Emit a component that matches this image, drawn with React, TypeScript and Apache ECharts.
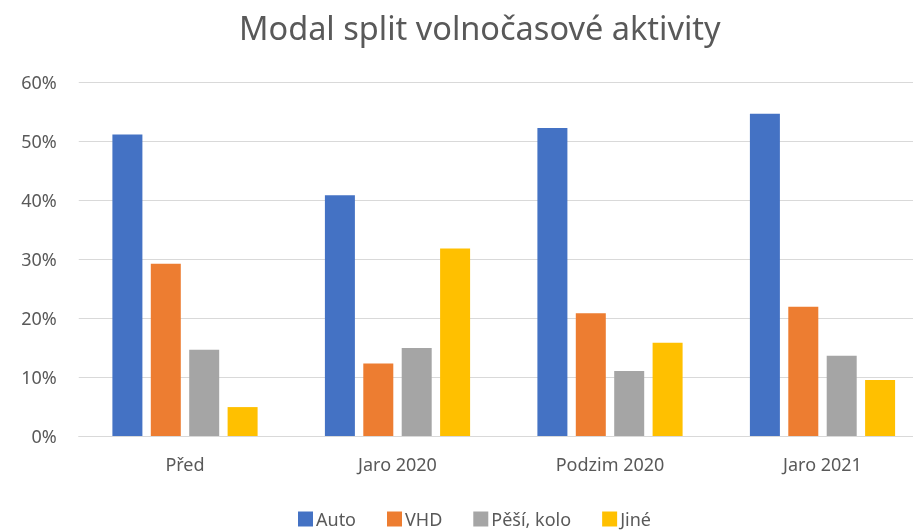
import React, { useEffect, useRef } from "react";
import * as echarts from "echarts";

const categories = ["Před", "Jaro 2020", "Podzim 2020", "Jaro 2021"];
const seriesNames = ["Auto", "VHD", "Pěší, kolo", "Jiné"];
const auto = [51.1, 40.8, 52.2, 54.6];
const vhd = [29.2, 12.3, 20.8, 21.9];
const pesi = [14.6, 14.9, 11.0, 13.6];
const jine = [4.9, 31.8, 15.8, 9.5];
const colors = ["#4472C4", "#ED7D31", "#A5A5A5", "#FFC000"];
const yTicks = [0, 10, 20, 30, 40, 50, 60];

export default function App() {
  const ref = useRef<HTMLDivElement>(null);
  useEffect(() => {
    if (!ref.current) return;
    const chart = echarts.init(ref.current, undefined, { renderer: "svg" });
    const font = "'Noto Sans', sans-serif";
    const data = [auto, vhd, pesi, jine];
    chart.setOption({
      animation: false,
      title: {
        text: "Modal split volnočasové aktivity",
        left: 234,
        top: 6,
        textStyle: { fontFamily: font, fontSize: 32.5, fontWeight: "normal", color: "#595959" },
      },
      legend: {
        data: seriesNames,
        left: 298,
        top: 510,
        padding: 0,
        itemWidth: 15,
        itemHeight: 15,
        itemGap: 31,
        icon: "rect",
        textStyle: { fontFamily: font, fontSize: 18, color: "#595959", padding: [0, 0, 0, -2] },
      },
      grid: {
        left: 78.75,
        width: 850,
        top: 82,
        bottom: 95,
        containLabel: false,
        outerBoundsMode: "none",
      },
      xAxis: {
        type: "category",
        data: categories,
        axisTick: { show: false },
        axisLine: { lineStyle: { color: "#D9D9D9", width: 1 } },
        axisLabel: { fontFamily: font, fontSize: 18, color: "#595959", margin: 19 },
      },
      yAxis: {
        type: "value",
        min: yTicks[0],
        max: yTicks[yTicks.length - 1],
        interval: 10,
        axisLine: { show: false },
        axisTick: { show: false },
        splitLine: { lineStyle: { color: "#D9D9D9", width: 1 } },
        axisLabel: { fontFamily: font, fontSize: 18, color: "#595959", margin: 22, formatter: "{value}%" },
      },
      series: seriesNames.map((name, i) => ({
        name,
        type: "bar",
        data: data[i],
        barWidth: 30,
        barGap: "28%",
        itemStyle: { color: colors[i] },
      })),
    });
    return () => chart.dispose();
  }, []);
  return <div ref={ref} style={{ position: "fixed", left: 0, top: 0, width: 913, height: 531 }} />;
}
